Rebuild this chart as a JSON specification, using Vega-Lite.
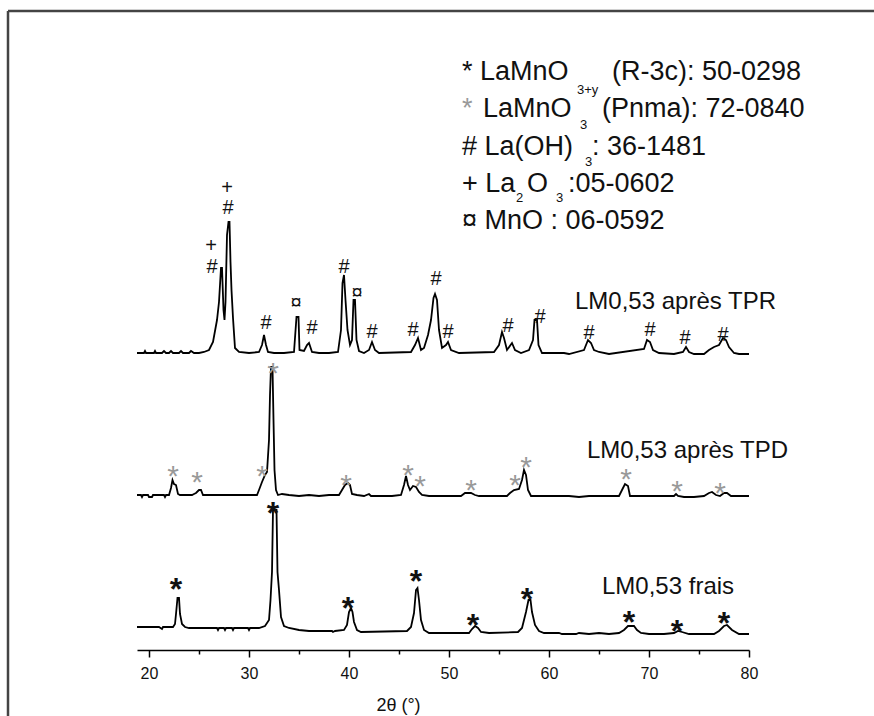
{
  "$schema": "https://vega.github.io/schema/vega-lite/v6.json",
  "width": 612,
  "height": 639,
  "autosize": {"type": "none"},
  "padding": {"left": 137, "right": 125, "top": 11, "bottom": 66},
  "background": "white",
  "config": {"view": {"stroke": null}, "font": "Liberation Sans"},
  "datasets": {
    "frame": [
      {"side": "top", "from_theta": 5.9, "to_theta": 93, "from_int": 639, "to_int": 639},
      {"side": "left", "from_theta": 5.9, "to_theta": 5.9, "from_int": 639, "to_int": -70}
    ],
    "patterns": [
      {"sample": "frais", "two_theta": 18.8, "intensity": 23}, {"sample": "frais", "two_theta": 19.5, "intensity": 23}, {"sample": "frais", "two_theta": 21.0, "intensity": 23}, {"sample": "frais", "two_theta": 21.3, "intensity": 21}, {"sample": "frais", "two_theta": 21.4, "intensity": 23}, {"sample": "frais", "two_theta": 22.4, "intensity": 23}, {"sample": "frais", "two_theta": 22.6, "intensity": 26}, {"sample": "frais", "two_theta": 22.7, "intensity": 36}, {"sample": "frais", "two_theta": 22.85, "intensity": 52}, {"sample": "frais", "two_theta": 23.0, "intensity": 52}, {"sample": "frais", "two_theta": 23.1, "intensity": 36}, {"sample": "frais", "two_theta": 23.3, "intensity": 26}, {"sample": "frais", "two_theta": 23.6, "intensity": 23}, {"sample": "frais", "two_theta": 24.0, "intensity": 22}, {"sample": "frais", "two_theta": 26.8, "intensity": 22}, {"sample": "frais", "two_theta": 26.9, "intensity": 20}, {"sample": "frais", "two_theta": 27.0, "intensity": 22}, {"sample": "frais", "two_theta": 27.5, "intensity": 22}, {"sample": "frais", "two_theta": 27.6, "intensity": 20}, {"sample": "frais", "two_theta": 27.7, "intensity": 22}, {"sample": "frais", "two_theta": 28.3, "intensity": 22}, {"sample": "frais", "two_theta": 28.4, "intensity": 20}, {"sample": "frais", "two_theta": 28.5, "intensity": 22}, {"sample": "frais", "two_theta": 29.9, "intensity": 22}, {"sample": "frais", "two_theta": 30.0, "intensity": 20}, {"sample": "frais", "two_theta": 30.1, "intensity": 22}, {"sample": "frais", "two_theta": 31.0, "intensity": 22}, {"sample": "frais", "two_theta": 31.6, "intensity": 24}, {"sample": "frais", "two_theta": 32.0, "intensity": 30}, {"sample": "frais", "two_theta": 32.15, "intensity": 50}, {"sample": "frais", "two_theta": 32.3, "intensity": 78}, {"sample": "frais", "two_theta": 32.4, "intensity": 140}, {"sample": "frais", "two_theta": 32.75, "intensity": 140}, {"sample": "frais", "two_theta": 32.85, "intensity": 78}, {"sample": "frais", "two_theta": 33.0, "intensity": 60}, {"sample": "frais", "two_theta": 33.2, "intensity": 33}, {"sample": "frais", "two_theta": 33.5, "intensity": 24}, {"sample": "frais", "two_theta": 34.0, "intensity": 22}, {"sample": "frais", "two_theta": 35.0, "intensity": 20}, {"sample": "frais", "two_theta": 36.0, "intensity": 19}, {"sample": "frais", "two_theta": 38.3, "intensity": 19}, {"sample": "frais", "two_theta": 38.4, "intensity": 18}, {"sample": "frais", "two_theta": 38.6, "intensity": 19}, {"sample": "frais", "two_theta": 39.5, "intensity": 20}, {"sample": "frais", "two_theta": 39.8, "intensity": 25}, {"sample": "frais", "two_theta": 40.0, "intensity": 38}, {"sample": "frais", "two_theta": 40.2, "intensity": 42}, {"sample": "frais", "two_theta": 40.35, "intensity": 38}, {"sample": "frais", "two_theta": 40.5, "intensity": 28}, {"sample": "frais", "two_theta": 40.8, "intensity": 20}, {"sample": "frais", "two_theta": 41.2, "intensity": 18}, {"sample": "frais", "two_theta": 45.8, "intensity": 19}, {"sample": "frais", "two_theta": 46.2, "intensity": 23}, {"sample": "frais", "two_theta": 46.5, "intensity": 37}, {"sample": "frais", "two_theta": 46.7, "intensity": 60}, {"sample": "frais", "two_theta": 46.85, "intensity": 62}, {"sample": "frais", "two_theta": 47.0, "intensity": 50}, {"sample": "frais", "two_theta": 47.2, "intensity": 30}, {"sample": "frais", "two_theta": 47.5, "intensity": 20}, {"sample": "frais", "two_theta": 48.0, "intensity": 17}, {"sample": "frais", "two_theta": 52.0, "intensity": 17}, {"sample": "frais", "two_theta": 52.3, "intensity": 21}, {"sample": "frais", "two_theta": 52.6, "intensity": 24}, {"sample": "frais", "two_theta": 52.9, "intensity": 22}, {"sample": "frais", "two_theta": 53.2, "intensity": 18}, {"sample": "frais", "two_theta": 54.0, "intensity": 17}, {"sample": "frais", "two_theta": 56.9, "intensity": 18}, {"sample": "frais", "two_theta": 57.3, "intensity": 22}, {"sample": "frais", "two_theta": 57.7, "intensity": 38}, {"sample": "frais", "two_theta": 57.95, "intensity": 50}, {"sample": "frais", "two_theta": 58.15, "intensity": 50}, {"sample": "frais", "two_theta": 58.3, "intensity": 38}, {"sample": "frais", "two_theta": 58.6, "intensity": 25}, {"sample": "frais", "two_theta": 59.0, "intensity": 19}, {"sample": "frais", "two_theta": 59.5, "intensity": 17}, {"sample": "frais", "two_theta": 61.0, "intensity": 17}, {"sample": "frais", "two_theta": 61.3, "intensity": 16}, {"sample": "frais", "two_theta": 62.7, "intensity": 16}, {"sample": "frais", "two_theta": 63.0, "intensity": 17}, {"sample": "frais", "two_theta": 64.0, "intensity": 16}, {"sample": "frais", "two_theta": 65.0, "intensity": 17}, {"sample": "frais", "two_theta": 66.0, "intensity": 16}, {"sample": "frais", "two_theta": 67.0, "intensity": 17}, {"sample": "frais", "two_theta": 67.5, "intensity": 20}, {"sample": "frais", "two_theta": 67.9, "intensity": 24}, {"sample": "frais", "two_theta": 68.5, "intensity": 24}, {"sample": "frais", "two_theta": 68.8, "intensity": 20}, {"sample": "frais", "two_theta": 69.2, "intensity": 17}, {"sample": "frais", "two_theta": 70.0, "intensity": 16}, {"sample": "frais", "two_theta": 71.5, "intensity": 16}, {"sample": "frais", "two_theta": 72.5, "intensity": 17}, {"sample": "frais", "two_theta": 72.9, "intensity": 19}, {"sample": "frais", "two_theta": 73.3, "intensity": 18}, {"sample": "frais", "two_theta": 74.0, "intensity": 16}, {"sample": "frais", "two_theta": 76.5, "intensity": 16}, {"sample": "frais", "two_theta": 77.0, "intensity": 19}, {"sample": "frais", "two_theta": 77.5, "intensity": 24}, {"sample": "frais", "two_theta": 77.8, "intensity": 25}, {"sample": "frais", "two_theta": 78.3, "intensity": 20}, {"sample": "frais", "two_theta": 79.0, "intensity": 16}, {"sample": "frais", "two_theta": 80.0, "intensity": 16},

      {"sample": "TPD", "two_theta": 18.8, "intensity": 155}, {"sample": "TPD", "two_theta": 19.2, "intensity": 155}, {"sample": "TPD", "two_theta": 19.3, "intensity": 153}, {"sample": "TPD", "two_theta": 19.4, "intensity": 155}, {"sample": "TPD", "two_theta": 19.9, "intensity": 155}, {"sample": "TPD", "two_theta": 20.0, "intensity": 153}, {"sample": "TPD", "two_theta": 20.3, "intensity": 153}, {"sample": "TPD", "two_theta": 20.4, "intensity": 155}, {"sample": "TPD", "two_theta": 21.5, "intensity": 155}, {"sample": "TPD", "two_theta": 21.6, "intensity": 153}, {"sample": "TPD", "two_theta": 21.7, "intensity": 155}, {"sample": "TPD", "two_theta": 22.0, "intensity": 155}, {"sample": "TPD", "two_theta": 22.2, "intensity": 162}, {"sample": "TPD", "two_theta": 22.35, "intensity": 170}, {"sample": "TPD", "two_theta": 22.5, "intensity": 166}, {"sample": "TPD", "two_theta": 22.7, "intensity": 165}, {"sample": "TPD", "two_theta": 22.9, "intensity": 156}, {"sample": "TPD", "two_theta": 23.1, "intensity": 155}, {"sample": "TPD", "two_theta": 24.3, "intensity": 155}, {"sample": "TPD", "two_theta": 24.5, "intensity": 156}, {"sample": "TPD", "two_theta": 24.7, "intensity": 157}, {"sample": "TPD", "two_theta": 25.0, "intensity": 160}, {"sample": "TPD", "two_theta": 25.2, "intensity": 160}, {"sample": "TPD", "two_theta": 25.4, "intensity": 155}, {"sample": "TPD", "two_theta": 30.8, "intensity": 155}, {"sample": "TPD", "two_theta": 31.0, "intensity": 160}, {"sample": "TPD", "two_theta": 31.3, "intensity": 168}, {"sample": "TPD", "two_theta": 31.6, "intensity": 175}, {"sample": "TPD", "two_theta": 31.8, "intensity": 178}, {"sample": "TPD", "two_theta": 32.0, "intensity": 210}, {"sample": "TPD", "two_theta": 32.1, "intensity": 255}, {"sample": "TPD", "two_theta": 32.2, "intensity": 283}, {"sample": "TPD", "two_theta": 32.35, "intensity": 283}, {"sample": "TPD", "two_theta": 32.45, "intensity": 230}, {"sample": "TPD", "two_theta": 32.55, "intensity": 180}, {"sample": "TPD", "two_theta": 32.7, "intensity": 160}, {"sample": "TPD", "two_theta": 32.9, "intensity": 155}, {"sample": "TPD", "two_theta": 33.3, "intensity": 156}, {"sample": "TPD", "two_theta": 34.0, "intensity": 155}, {"sample": "TPD", "two_theta": 35.0, "intensity": 154}, {"sample": "TPD", "two_theta": 36.0, "intensity": 155}, {"sample": "TPD", "two_theta": 37.0, "intensity": 154}, {"sample": "TPD", "two_theta": 38.0, "intensity": 155}, {"sample": "TPD", "two_theta": 39.0, "intensity": 155}, {"sample": "TPD", "two_theta": 39.3, "intensity": 160}, {"sample": "TPD", "two_theta": 39.6, "intensity": 165}, {"sample": "TPD", "two_theta": 39.9, "intensity": 167}, {"sample": "TPD", "two_theta": 40.1, "intensity": 165}, {"sample": "TPD", "two_theta": 40.3, "intensity": 156}, {"sample": "TPD", "two_theta": 40.8, "intensity": 155}, {"sample": "TPD", "two_theta": 41.5, "intensity": 154}, {"sample": "TPD", "two_theta": 42.0, "intensity": 156}, {"sample": "TPD", "two_theta": 42.2, "intensity": 154}, {"sample": "TPD", "two_theta": 44.3, "intensity": 154}, {"sample": "TPD", "two_theta": 45.2, "intensity": 155}, {"sample": "TPD", "two_theta": 45.5, "intensity": 165}, {"sample": "TPD", "two_theta": 45.7, "intensity": 174}, {"sample": "TPD", "two_theta": 45.9, "intensity": 165}, {"sample": "TPD", "two_theta": 46.1, "intensity": 160}, {"sample": "TPD", "two_theta": 46.4, "intensity": 164}, {"sample": "TPD", "two_theta": 46.7, "intensity": 163}, {"sample": "TPD", "two_theta": 47.0, "intensity": 158}, {"sample": "TPD", "two_theta": 47.3, "intensity": 155}, {"sample": "TPD", "two_theta": 48.0, "intensity": 154}, {"sample": "TPD", "two_theta": 51.2, "intensity": 154}, {"sample": "TPD", "two_theta": 51.6, "intensity": 157}, {"sample": "TPD", "two_theta": 52.2, "intensity": 157}, {"sample": "TPD", "two_theta": 52.6, "intensity": 155}, {"sample": "TPD", "two_theta": 53.0, "intensity": 154}, {"sample": "TPD", "two_theta": 55.8, "intensity": 154}, {"sample": "TPD", "two_theta": 56.1, "intensity": 157}, {"sample": "TPD", "two_theta": 56.5, "intensity": 160}, {"sample": "TPD", "two_theta": 57.0, "intensity": 161}, {"sample": "TPD", "two_theta": 57.3, "intensity": 170}, {"sample": "TPD", "two_theta": 57.5, "intensity": 180}, {"sample": "TPD", "two_theta": 57.7, "intensity": 175}, {"sample": "TPD", "two_theta": 57.9, "intensity": 160}, {"sample": "TPD", "two_theta": 58.2, "intensity": 154}, {"sample": "TPD", "two_theta": 62.0, "intensity": 154}, {"sample": "TPD", "two_theta": 63.0, "intensity": 153}, {"sample": "TPD", "two_theta": 64.0, "intensity": 154}, {"sample": "TPD", "two_theta": 67.0, "intensity": 154}, {"sample": "TPD", "two_theta": 67.3, "intensity": 160}, {"sample": "TPD", "two_theta": 67.6, "intensity": 166}, {"sample": "TPD", "two_theta": 67.9, "intensity": 164}, {"sample": "TPD", "two_theta": 68.1, "intensity": 154}, {"sample": "TPD", "two_theta": 72.5, "intensity": 154}, {"sample": "TPD", "two_theta": 72.7, "intensity": 156}, {"sample": "TPD", "two_theta": 72.9, "intensity": 154}, {"sample": "TPD", "two_theta": 73.5, "intensity": 153}, {"sample": "TPD", "two_theta": 74.5, "intensity": 153}, {"sample": "TPD", "two_theta": 75.5, "intensity": 154}, {"sample": "TPD", "two_theta": 76.0, "intensity": 157}, {"sample": "TPD", "two_theta": 76.3, "intensity": 158}, {"sample": "TPD", "two_theta": 76.7, "intensity": 155}, {"sample": "TPD", "two_theta": 77.1, "intensity": 154}, {"sample": "TPD", "two_theta": 77.5, "intensity": 157}, {"sample": "TPD", "two_theta": 77.8, "intensity": 157}, {"sample": "TPD", "two_theta": 78.2, "intensity": 154}, {"sample": "TPD", "two_theta": 80.0, "intensity": 154},

      {"sample": "TPR", "two_theta": 18.8, "intensity": 297}, {"sample": "TPR", "two_theta": 19.5, "intensity": 297}, {"sample": "TPR", "two_theta": 19.6, "intensity": 299}, {"sample": "TPR", "two_theta": 19.7, "intensity": 297}, {"sample": "TPR", "two_theta": 20.5, "intensity": 297}, {"sample": "TPR", "two_theta": 20.6, "intensity": 299}, {"sample": "TPR", "two_theta": 20.7, "intensity": 297}, {"sample": "TPR", "two_theta": 21.3, "intensity": 297}, {"sample": "TPR", "two_theta": 21.5, "intensity": 299}, {"sample": "TPR", "two_theta": 21.7, "intensity": 297}, {"sample": "TPR", "two_theta": 22.0, "intensity": 297}, {"sample": "TPR", "two_theta": 22.2, "intensity": 299}, {"sample": "TPR", "two_theta": 22.4, "intensity": 297}, {"sample": "TPR", "two_theta": 23.0, "intensity": 297}, {"sample": "TPR", "two_theta": 23.2, "intensity": 299}, {"sample": "TPR", "two_theta": 23.4, "intensity": 297}, {"sample": "TPR", "two_theta": 24.0, "intensity": 297}, {"sample": "TPR", "two_theta": 24.2, "intensity": 299}, {"sample": "TPR", "two_theta": 24.5, "intensity": 297}, {"sample": "TPR", "two_theta": 25.0, "intensity": 297}, {"sample": "TPR", "two_theta": 25.5, "intensity": 298}, {"sample": "TPR", "two_theta": 26.0, "intensity": 300}, {"sample": "TPR", "two_theta": 26.4, "intensity": 308}, {"sample": "TPR", "two_theta": 26.8, "intensity": 330}, {"sample": "TPR", "two_theta": 27.0, "intensity": 348}, {"sample": "TPR", "two_theta": 27.2, "intensity": 382}, {"sample": "TPR", "two_theta": 27.3, "intensity": 382}, {"sample": "TPR", "two_theta": 27.45, "intensity": 340}, {"sample": "TPR", "two_theta": 27.55, "intensity": 330}, {"sample": "TPR", "two_theta": 27.65, "intensity": 348}, {"sample": "TPR", "two_theta": 27.8, "intensity": 415}, {"sample": "TPR", "two_theta": 27.95, "intensity": 428}, {"sample": "TPR", "two_theta": 28.05, "intensity": 428}, {"sample": "TPR", "two_theta": 28.15, "intensity": 388}, {"sample": "TPR", "two_theta": 28.25, "intensity": 360}, {"sample": "TPR", "two_theta": 28.4, "intensity": 332}, {"sample": "TPR", "two_theta": 28.6, "intensity": 302}, {"sample": "TPR", "two_theta": 29.0, "intensity": 298}, {"sample": "TPR", "two_theta": 30.0, "intensity": 297}, {"sample": "TPR", "two_theta": 31.0, "intensity": 298}, {"sample": "TPR", "two_theta": 31.3, "intensity": 305}, {"sample": "TPR", "two_theta": 31.5, "intensity": 315}, {"sample": "TPR", "two_theta": 31.7, "intensity": 305}, {"sample": "TPR", "two_theta": 31.9, "intensity": 298}, {"sample": "TPR", "two_theta": 32.5, "intensity": 297}, {"sample": "TPR", "two_theta": 33.5, "intensity": 297}, {"sample": "TPR", "two_theta": 34.5, "intensity": 298}, {"sample": "TPR", "two_theta": 34.75, "intensity": 333}, {"sample": "TPR", "two_theta": 34.95, "intensity": 333}, {"sample": "TPR", "two_theta": 35.05, "intensity": 300}, {"sample": "TPR", "two_theta": 35.5, "intensity": 299}, {"sample": "TPR", "two_theta": 35.8, "intensity": 305}, {"sample": "TPR", "two_theta": 36.0, "intensity": 307}, {"sample": "TPR", "two_theta": 36.3, "intensity": 298}, {"sample": "TPR", "two_theta": 37.0, "intensity": 297}, {"sample": "TPR", "two_theta": 38.0, "intensity": 297}, {"sample": "TPR", "two_theta": 38.9, "intensity": 298}, {"sample": "TPR", "two_theta": 39.2, "intensity": 320}, {"sample": "TPR", "two_theta": 39.35, "intensity": 367}, {"sample": "TPR", "two_theta": 39.5, "intensity": 375}, {"sample": "TPR", "two_theta": 39.65, "intensity": 350}, {"sample": "TPR", "two_theta": 39.85, "intensity": 320}, {"sample": "TPR", "two_theta": 40.1, "intensity": 305}, {"sample": "TPR", "two_theta": 40.3, "intensity": 310}, {"sample": "TPR", "two_theta": 40.45, "intensity": 350}, {"sample": "TPR", "two_theta": 40.6, "intensity": 350}, {"sample": "TPR", "two_theta": 40.75, "intensity": 310}, {"sample": "TPR", "two_theta": 41.0, "intensity": 299}, {"sample": "TPR", "two_theta": 41.5, "intensity": 297}, {"sample": "TPR", "two_theta": 42.0, "intensity": 300}, {"sample": "TPR", "two_theta": 42.3, "intensity": 308}, {"sample": "TPR", "two_theta": 42.6, "intensity": 300}, {"sample": "TPR", "two_theta": 43.0, "intensity": 297}, {"sample": "TPR", "two_theta": 46.2, "intensity": 298}, {"sample": "TPR", "two_theta": 46.6, "intensity": 305}, {"sample": "TPR", "two_theta": 46.9, "intensity": 312}, {"sample": "TPR", "two_theta": 47.2, "intensity": 300}, {"sample": "TPR", "two_theta": 47.5, "intensity": 302}, {"sample": "TPR", "two_theta": 47.9, "intensity": 315}, {"sample": "TPR", "two_theta": 48.2, "intensity": 330}, {"sample": "TPR", "two_theta": 48.45, "intensity": 352}, {"sample": "TPR", "two_theta": 48.6, "intensity": 356}, {"sample": "TPR", "two_theta": 48.8, "intensity": 350}, {"sample": "TPR", "two_theta": 49.0, "intensity": 320}, {"sample": "TPR", "two_theta": 49.3, "intensity": 302}, {"sample": "TPR", "two_theta": 49.7, "intensity": 305}, {"sample": "TPR", "two_theta": 49.9, "intensity": 308}, {"sample": "TPR", "two_theta": 50.2, "intensity": 300}, {"sample": "TPR", "two_theta": 51.0, "intensity": 297}, {"sample": "TPR", "two_theta": 54.5, "intensity": 298}, {"sample": "TPR", "two_theta": 55.0, "intensity": 305}, {"sample": "TPR", "two_theta": 55.3, "intensity": 318}, {"sample": "TPR", "two_theta": 55.5, "intensity": 312}, {"sample": "TPR", "two_theta": 55.8, "intensity": 300}, {"sample": "TPR", "two_theta": 56.3, "intensity": 307}, {"sample": "TPR", "two_theta": 56.6, "intensity": 300}, {"sample": "TPR", "two_theta": 57.2, "intensity": 297}, {"sample": "TPR", "two_theta": 58.0, "intensity": 300}, {"sample": "TPR", "two_theta": 58.4, "intensity": 310}, {"sample": "TPR", "two_theta": 58.55, "intensity": 330}, {"sample": "TPR", "two_theta": 58.8, "intensity": 330}, {"sample": "TPR", "two_theta": 58.95, "intensity": 305}, {"sample": "TPR", "two_theta": 59.3, "intensity": 297}, {"sample": "TPR", "two_theta": 61.5, "intensity": 297}, {"sample": "TPR", "two_theta": 62.0, "intensity": 296}, {"sample": "TPR", "two_theta": 63.5, "intensity": 300}, {"sample": "TPR", "two_theta": 63.9, "intensity": 310}, {"sample": "TPR", "two_theta": 64.2, "intensity": 307}, {"sample": "TPR", "two_theta": 64.5, "intensity": 300}, {"sample": "TPR", "two_theta": 65.0, "intensity": 298}, {"sample": "TPR", "two_theta": 66.0, "intensity": 296}, {"sample": "TPR", "two_theta": 69.5, "intensity": 301}, {"sample": "TPR", "two_theta": 69.8, "intensity": 310}, {"sample": "TPR", "two_theta": 70.1, "intensity": 308}, {"sample": "TPR", "two_theta": 70.4, "intensity": 300}, {"sample": "TPR", "two_theta": 71.0, "intensity": 297}, {"sample": "TPR", "two_theta": 72.5, "intensity": 296}, {"sample": "TPR", "two_theta": 73.4, "intensity": 298}, {"sample": "TPR", "two_theta": 73.7, "intensity": 303}, {"sample": "TPR", "two_theta": 74.0, "intensity": 298}, {"sample": "TPR", "two_theta": 74.5, "intensity": 296}, {"sample": "TPR", "two_theta": 75.5, "intensity": 296}, {"sample": "TPR", "two_theta": 76.0, "intensity": 300}, {"sample": "TPR", "two_theta": 76.5, "intensity": 303}, {"sample": "TPR", "two_theta": 77.0, "intensity": 305}, {"sample": "TPR", "two_theta": 77.4, "intensity": 312}, {"sample": "TPR", "two_theta": 77.7, "intensity": 310}, {"sample": "TPR", "two_theta": 78.0, "intensity": 303}, {"sample": "TPR", "two_theta": 78.5, "intensity": 297}, {"sample": "TPR", "two_theta": 79.0, "intensity": 296}, {"sample": "TPR", "two_theta": 80.0, "intensity": 296}
    ],
    "peaks": [
      {"phase": "La2O3", "symbol": "+", "two_theta": 26.2, "intensity": 404},
      {"phase": "La(OH)3", "symbol": "#", "two_theta": 26.3, "intensity": 383},
      {"phase": "La2O3", "symbol": "+", "two_theta": 27.8, "intensity": 462},
      {"phase": "La(OH)3", "symbol": "#", "two_theta": 27.9, "intensity": 442},
      {"phase": "La(OH)3", "symbol": "#", "two_theta": 31.7, "intensity": 327},
      {"phase": "MnO", "symbol": "¤", "two_theta": 34.7, "intensity": 347},
      {"phase": "La(OH)3", "symbol": "#", "two_theta": 36.3, "intensity": 322},
      {"phase": "La(OH)3", "symbol": "#", "two_theta": 39.5, "intensity": 383},
      {"phase": "MnO", "symbol": "¤", "two_theta": 40.8, "intensity": 357},
      {"phase": "La(OH)3", "symbol": "#", "two_theta": 42.3, "intensity": 318},
      {"phase": "La(OH)3", "symbol": "#", "two_theta": 46.4, "intensity": 320},
      {"phase": "La(OH)3", "symbol": "#", "two_theta": 48.7, "intensity": 371},
      {"phase": "La(OH)3", "symbol": "#", "two_theta": 49.9, "intensity": 318},
      {"phase": "La(OH)3", "symbol": "#", "two_theta": 55.9, "intensity": 324},
      {"phase": "La(OH)3", "symbol": "#", "two_theta": 59.1, "intensity": 333},
      {"phase": "La(OH)3", "symbol": "#", "two_theta": 64.0, "intensity": 317},
      {"phase": "La(OH)3", "symbol": "#", "two_theta": 70.1, "intensity": 320},
      {"phase": "La(OH)3", "symbol": "#", "two_theta": 73.6, "intensity": 312},
      {"phase": "La(OH)3", "symbol": "#", "two_theta": 77.4, "intensity": 315},
      {"phase": "LaMnO3 (Pnma)", "symbol": "*", "two_theta": 22.4, "intensity": 182},
      {"phase": "LaMnO3 (Pnma)", "symbol": "*", "two_theta": 24.8, "intensity": 176},
      {"phase": "LaMnO3 (Pnma)", "symbol": "*", "two_theta": 31.3, "intensity": 182},
      {"phase": "LaMnO3 (Pnma)", "symbol": "*", "two_theta": 32.4, "intensity": 285},
      {"phase": "LaMnO3 (Pnma)", "symbol": "*", "two_theta": 39.7, "intensity": 173},
      {"phase": "LaMnO3 (Pnma)", "symbol": "*", "two_theta": 45.9, "intensity": 183},
      {"phase": "LaMnO3 (Pnma)", "symbol": "*", "two_theta": 47.1, "intensity": 172},
      {"phase": "LaMnO3 (Pnma)", "symbol": "*", "two_theta": 52.2, "intensity": 168},
      {"phase": "LaMnO3 (Pnma)", "symbol": "*", "two_theta": 56.6, "intensity": 173},
      {"phase": "LaMnO3 (Pnma)", "symbol": "*", "two_theta": 57.7, "intensity": 191},
      {"phase": "LaMnO3 (Pnma)", "symbol": "*", "two_theta": 67.7, "intensity": 179},
      {"phase": "LaMnO3 (Pnma)", "symbol": "*", "two_theta": 72.8, "intensity": 167},
      {"phase": "LaMnO3 (Pnma)", "symbol": "*", "two_theta": 77.1, "intensity": 165},
      {"phase": "LaMnO3+y (R-3c)", "symbol": "*", "two_theta": 22.7, "intensity": 69},
      {"phase": "LaMnO3+y (R-3c)", "symbol": "*", "two_theta": 32.4, "intensity": 145},
      {"phase": "LaMnO3+y (R-3c)", "symbol": "*", "two_theta": 39.9, "intensity": 50},
      {"phase": "LaMnO3+y (R-3c)", "symbol": "*", "two_theta": 46.7, "intensity": 77},
      {"phase": "LaMnO3+y (R-3c)", "symbol": "*", "two_theta": 52.4, "intensity": 33},
      {"phase": "LaMnO3+y (R-3c)", "symbol": "*", "two_theta": 57.8, "intensity": 59},
      {"phase": "LaMnO3+y (R-3c)", "symbol": "*", "two_theta": 68.0, "intensity": 36},
      {"phase": "LaMnO3+y (R-3c)", "symbol": "*", "two_theta": 72.8, "intensity": 27},
      {"phase": "LaMnO3+y (R-3c)", "symbol": "*", "two_theta": 77.5, "intensity": 35}
    ],
    "legendtext": [
      {"role": "main", "phase": "R-3c", "text": "* LaMnO", "two_theta": 51.3, "intensity": 578},
      {"role": "sub", "phase": "R-3c", "text": "3+y", "two_theta": 62.8, "intensity": 560},
      {"role": "main", "phase": "R-3c", "text": "(R-3c): 50-0298", "two_theta": 66.3, "intensity": 578},
      {"role": "main", "phase": "Pnma-symbol", "text": "*", "two_theta": 51.3, "intensity": 541},
      {"role": "main", "phase": "Pnma", "text": "LaMnO", "two_theta": 53.4, "intensity": 541},
      {"role": "sub", "phase": "Pnma", "text": "3", "two_theta": 63.1, "intensity": 525},
      {"role": "main", "phase": "Pnma", "text": "(Pnma): 72-0840", "two_theta": 65.3, "intensity": 541},
      {"role": "main", "phase": "La(OH)3", "text": "# La(OH)", "two_theta": 51.3, "intensity": 503},
      {"role": "sub", "phase": "La(OH)3", "text": "3", "two_theta": 63.6, "intensity": 488},
      {"role": "main", "phase": "La(OH)3", "text": ": 36-1481", "two_theta": 64.3, "intensity": 503},
      {"role": "main", "phase": "La2O3", "text": "+ La", "two_theta": 51.3, "intensity": 466},
      {"role": "sub", "phase": "La2O3", "text": "2", "two_theta": 56.7, "intensity": 452},
      {"role": "main", "phase": "La2O3", "text": "O", "two_theta": 57.8, "intensity": 466},
      {"role": "sub", "phase": "La2O3", "text": "3", "two_theta": 60.7, "intensity": 452},
      {"role": "main", "phase": "La2O3", "text": ":05-0602", "two_theta": 61.9, "intensity": 466},
      {"role": "main", "phase": "MnO", "text": "¤ MnO : 06-0592", "two_theta": 51.3, "intensity": 429}
    ],
    "samplelabels": [
      {"text": "LM0,53 après TPR", "two_theta": 62.6, "intensity": 348},
      {"text": "LM0,53 après TPD", "two_theta": 63.8, "intensity": 199},
      {"text": "LM0,53 frais", "two_theta": 65.3, "intensity": 63}
    ]
  },
  "layer": [
    {
      "data": {"name": "patterns"},
      "mark": {"type": "line", "color": "#000", "strokeWidth": 1.8, "interpolate": "linear"},
      "encoding": {
        "x": {
          "field": "two_theta", "type": "quantitative",
          "scale": {"domain": [18.8, 80], "nice": false, "zero": false},
          "axis": {
            "values": [20, 25, 30, 35, 40, 45, 50, 55, 60, 65, 70, 75, 80],
            "labelExpr": "datum.value % 10 === 0 ? datum.label : ''",
            "tickSize": {"condition": {"test": "datum.value % 10 !== 0", "value": 4}, "value": 7},
            "tickWidth": 1.5, "tickColor": "#000",
            "domainColor": "#000", "domainWidth": 1.5,
            "labelFontSize": 16, "labelColor": "#111", "labelPadding": 8, "labelFlush": false,
            "grid": false,
            "title": "2θ (°)", "titleFontSize": 18, "titleFontWeight": "normal", "titleColor": "#111",
            "titleX": 261, "titleY": 55, "titleAlign": "center", "titleBaseline": "middle"
          }
        },
        "y": {
          "field": "intensity", "type": "quantitative",
          "scale": {"domain": [0, 639], "nice": false, "zero": false},
          "axis": null
        },
        "detail": {"field": "sample", "type": "nominal"}
      }
    },
    {
      "data": {"name": "frame"},
      "mark": {"type": "rule", "color": "#444", "strokeWidth": 2.5},
      "encoding": {
        "x": {"field": "from_theta", "type": "quantitative"},
        "x2": {"field": "to_theta"},
        "y": {"field": "from_int", "type": "quantitative"},
        "y2": {"field": "to_int"}
      }
    },
    {
      "data": {"name": "peaks"},
      "transform": [{"filter": "datum.symbol !== '*'"}],
      "mark": {"type": "text", "fontSize": 20, "baseline": "middle", "align": "center", "color": "#111"},
      "encoding": {
        "x": {"field": "two_theta", "type": "quantitative"},
        "y": {"field": "intensity", "type": "quantitative"},
        "text": {"field": "symbol", "type": "nominal"}
      }
    },
    {
      "data": {"name": "peaks"},
      "transform": [{"filter": "datum.phase === 'LaMnO3 (Pnma)'"}],
      "mark": {"type": "text", "fontSize": 30, "baseline": "middle", "align": "center", "color": "#999", "dy": 9},
      "encoding": {
        "x": {"field": "two_theta", "type": "quantitative"},
        "y": {"field": "intensity", "type": "quantitative"},
        "text": {"field": "symbol", "type": "nominal"}
      }
    },
    {
      "data": {"name": "peaks"},
      "transform": [{"filter": "datum.phase === 'LaMnO3+y (R-3c)'"}],
      "mark": {"type": "text", "fontSize": 32, "fontWeight": "bold", "baseline": "middle", "align": "center", "color": "#111", "dy": 9},
      "encoding": {
        "x": {"field": "two_theta", "type": "quantitative"},
        "y": {"field": "intensity", "type": "quantitative"},
        "text": {"field": "symbol", "type": "nominal"}
      }
    },
    {
      "data": {"name": "legendtext"},
      "transform": [{"filter": "datum.role === 'main' && datum.phase !== 'Pnma-symbol'"}],
      "mark": {"type": "text", "fontSize": 27, "baseline": "middle", "align": "left", "color": "#111"},
      "encoding": {
        "x": {"field": "two_theta", "type": "quantitative"},
        "y": {"field": "intensity", "type": "quantitative"},
        "text": {"field": "text", "type": "nominal"}
      }
    },
    {
      "data": {"name": "legendtext"},
      "transform": [{"filter": "datum.phase === 'Pnma-symbol'"}],
      "mark": {"type": "text", "fontSize": 27, "baseline": "middle", "align": "left", "color": "#999"},
      "encoding": {
        "x": {"field": "two_theta", "type": "quantitative"},
        "y": {"field": "intensity", "type": "quantitative"},
        "text": {"field": "text", "type": "nominal"}
      }
    },
    {
      "data": {"name": "legendtext"},
      "transform": [{"filter": "datum.role === 'sub'"}],
      "mark": {"type": "text", "fontSize": 13, "baseline": "middle", "align": "left", "color": "#111"},
      "encoding": {
        "x": {"field": "two_theta", "type": "quantitative"},
        "y": {"field": "intensity", "type": "quantitative"},
        "text": {"field": "text", "type": "nominal"}
      }
    },
    {
      "data": {"name": "samplelabels"},
      "mark": {"type": "text", "fontSize": 24, "baseline": "middle", "align": "left", "color": "#111"},
      "encoding": {
        "x": {"field": "two_theta", "type": "quantitative"},
        "y": {"field": "intensity", "type": "quantitative"},
        "text": {"field": "text", "type": "nominal"}
      }
    }
  ]
}
